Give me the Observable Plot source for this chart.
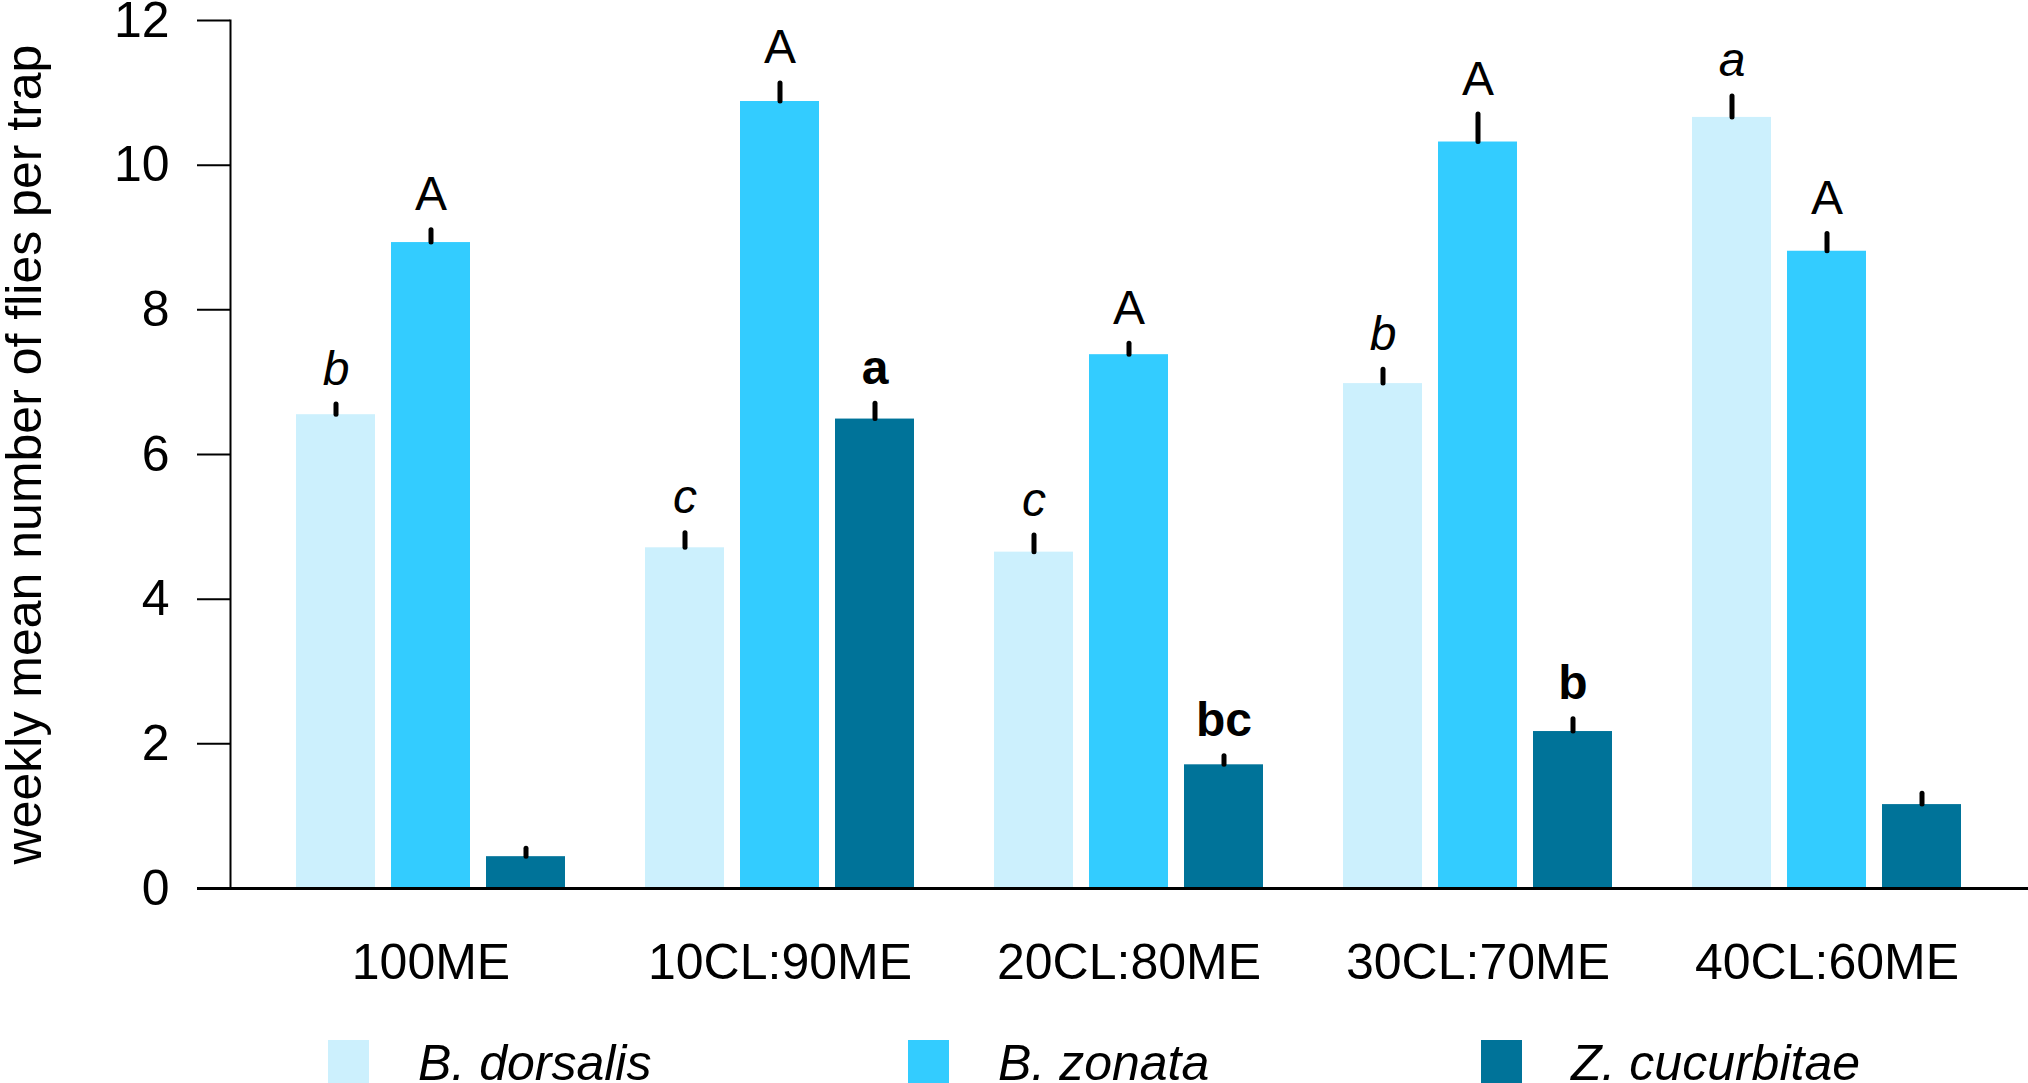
<!DOCTYPE html>
<html>
<head>
<meta charset="utf-8">
<script src="https://cdn.jsdelivr.net/npm/d3@7"></script>
<script src="https://cdn.jsdelivr.net/npm/@observablehq/plot@0.6"></script>
<style>
  html, body { margin: 0; padding: 0; background: #fff; }
  body { font-family: "Liberation Sans", Arial, Helvetica, sans-serif; width: 2028px; height: 1083px; overflow: hidden; }
  #chart svg { display: block; }
  #legend { display: flex; padding-left: 328px; margin-top: 38px; height: 45px; }
  .item { display: flex; align-items: flex-start; flex: none; }
  .sw { width: 41px; height: 45px; margin-top: 2px; flex: none; }
  .lab { font-style: italic; font-size: 50px; line-height: 50px; margin-left: 49px; white-space: nowrap; }
</style>
</head>
<body>
<div id="chart"></div>
<div id="legend"></div>
<script>
// ---- data ----
const groups = ["100ME", "10CL:90ME", "20CL:80ME", "30CL:70ME", "40CL:60ME"];
const species = ["B. dorsalis", "B. zonata", "Z. cucurbitae"];
const colors = ["#ccf0fd", "#33ccff", "#007399"];

const dorsalisMean = [6.55, 4.71, 4.65, 6.98, 10.66];
const dorsalisSE   = [0.14, 0.20, 0.23, 0.19, 0.29];
const zonataMean   = [8.93, 10.88, 7.38, 10.32, 8.81];
const zonataSE     = [0.17, 0.25, 0.15, 0.38, 0.24];
const cucurbitaeMean = [0.44, 6.49, 1.71, 2.17, 1.16];
const cucurbitaeSE   = [0.11, 0.21, 0.12, 0.17, 0.15];

const dorsalisLetters   = ["b", "c", "c", "b", "a"];
const zonataLetters     = ["A", "A", "A", "A", "A"];
const cucurbitaeLetters = ["", "a", "bc", "b", ""];

const yTicks = [0, 2, 4, 6, 8, 10, 12];
const yLabel = "weekly mean number of flies per trap";

// ---- table built from arrays ----
const means = [dorsalisMean, zonataMean, cucurbitaeMean];
const ses = [dorsalisSE, zonataSE, cucurbitaeSE];
const letters = [dorsalisLetters, zonataLetters, cucurbitaeLetters];
const rows = species.map((s, j) => groups.map((g, i) => ({
  group: g, species: s, mean: means[j][i], se: ses[j][i], letter: letters[j][i]
})));

// styling per species (position within group, label style)
const offsets = [-95, 0, 95];
const insets = [[0, 190], [95, 95], [190, 0]];
const fontStyles = ["italic", "normal", "normal"];
const fontWeights = ["normal", "normal", "bold"];
const legendWidths = [580, 573, 500];

const speciesMarks = rows.flatMap((data, j) => [
  Plot.barY(data, {
    x: "group", y: "mean", fill: colors[j],
    insetLeft: insets[j][0], insetRight: insets[j][1]
  }),
  Plot.ruleX(data, {
    x: "group", y1: "mean", y2: d => d.mean + d.se, dx: offsets[j],
    stroke: "black", strokeWidth: 5, strokeLinecap: "round"
  }),
  Plot.text(data, {
    x: "group", y: d => d.mean + d.se, text: "letter", dx: offsets[j], dy: -20,
    lineAnchor: "bottom", fontSize: 48, fontStyle: fontStyles[j], fontWeight: fontWeights[j],
    fill: "black"
  })
]);

const chart = Plot.plot({
  width: 2028,
  height: 1000,
  marginLeft: 230,
  marginRight: 0,
  marginTop: 20,
  marginBottom: 112,
  style: { fontFamily: "'Liberation Sans', Arial, Helvetica, sans-serif", fontSize: "50px", color: "black", background: "white" },
  x: { type: "band", domain: groups, paddingInner: 0.229, paddingOuter: 0.19, label: null },
  y: { domain: [0, 12], label: null },
  marks: [
    ...speciesMarks,
    Plot.axisY({ ticks: yTicks, tickSize: 33, tickPadding: 28, strokeWidth: 2, fontSize: 50, label: null, tickFormat: d => String(d) }),
    Plot.axisX({ tickSize: 0, tickPadding: 55, fontSize: 50, label: null }),
    Plot.frame({ anchor: "left", strokeWidth: 2 }),
    Plot.ruleY([0], { strokeWidth: 3, insetLeft: -33 }),
    Plot.text([yLabel], { frameAnchor: "left", textAnchor: "middle", rotate: -90, dx: -206, fontSize: 50, fill: "black" })
  ]
});
document.getElementById("chart").appendChild(chart);

// ---- legend ----
const legend = document.getElementById("legend");
species.forEach((s, j) => {
  const item = document.createElement("div");
  item.className = "item";
  item.style.width = legendWidths[j] + "px";
  const sw = document.createElement("div");
  sw.className = "sw";
  sw.style.background = colors[j];
  const lab = document.createElement("span");
  lab.className = "lab";
  lab.textContent = s;
  item.appendChild(sw);
  item.appendChild(lab);
  legend.appendChild(item);
});
</script>
</body>
</html>
